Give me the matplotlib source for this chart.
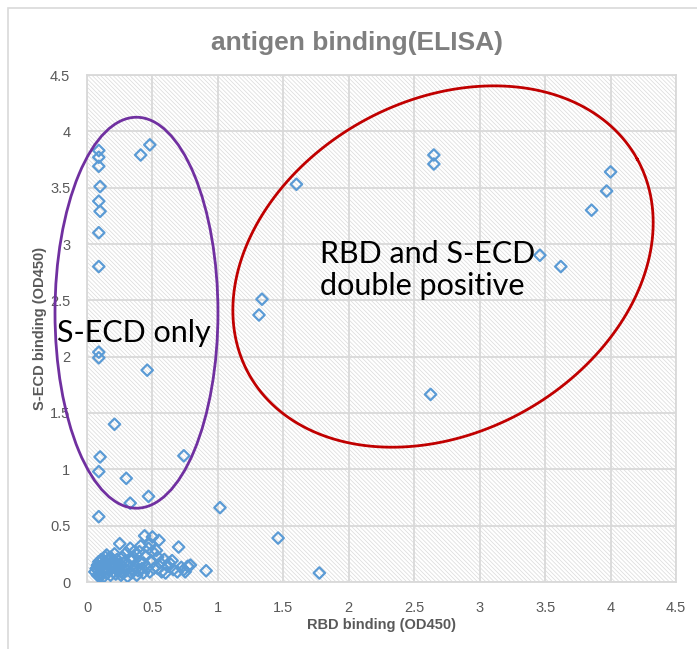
import numpy as np
import matplotlib
matplotlib.use("Agg")
import matplotlib.pyplot as plt
from matplotlib.patches import Ellipse, Rectangle

plt.rcParams['font.family'] = ['Liberation Sans', 'DejaVu Sans']
plt.rcParams['hatch.linewidth'] = 0.5
plt.rcParams['hatch.color'] = '#DADADA'

# ---- data (RBD OD450, S-ECD OD450) ----
rbd_secd_only = [0.09, 0.09, 0.09, 0.10, 0.09, 0.10, 0.09, 0.09, 0.41, 0.48,
                 0.09, 0.09, 0.46, 0.21, 0.10, 0.74, 0.09, 0.30, 0.33, 0.47, 0.09]
secd_secd_only = [3.83, 3.77, 3.69, 3.51, 3.38, 3.29, 3.10, 2.80, 3.79, 3.88,
                  2.04, 1.99, 1.88, 1.40, 1.11, 1.12, 0.98, 0.92, 0.70, 0.76, 0.58]

rbd_double = [1.60, 2.65, 2.65, 4.00, 3.97, 3.855, 3.46, 3.62, 1.337, 1.314, 2.625]
secd_double = [3.53, 3.79, 3.71, 3.64, 3.47, 3.30, 2.90, 2.80, 2.51, 2.37, 1.665]

rbd_other = [1.016, 1.46, 1.775]
secd_other = [0.66, 0.39, 0.08]

rbd_neg = [0.06, 0.07, 0.08, 0.08, 0.09, 0.09, 0.10, 0.10, 0.11, 0.12, 0.12, 0.13, 0.13,
           0.14, 0.15, 0.15, 0.16, 0.17, 0.18, 0.18, 0.19, 0.20, 0.20, 0.21, 0.22, 0.22,
           0.23, 0.24, 0.25, 0.25, 0.26, 0.27, 0.27, 0.28, 0.29, 0.30, 0.30, 0.31, 0.32,
           0.33, 0.33, 0.34, 0.35, 0.35, 0.36, 0.37, 0.38, 0.38, 0.39, 0.40, 0.40, 0.41,
           0.42, 0.43, 0.43, 0.44, 0.45, 0.46, 0.47, 0.48, 0.48, 0.49, 0.50, 0.50, 0.51,
           0.53, 0.54, 0.54, 0.55, 0.56, 0.57, 0.59, 0.60, 0.62, 0.63, 0.65, 0.66, 0.69,
           0.70, 0.72, 0.74, 0.75, 0.77, 0.79, 0.91, 0.12, 0.15, 0.10, 0.17, 0.24]
secd_neg = [0.09, 0.12, 0.06, 0.15, 0.10, 0.18, 0.07, 0.13, 0.20, 0.09, 0.16, 0.05, 0.12,
            0.22, 0.08, 0.17, 0.11, 0.14, 0.06, 0.22, 0.12, 0.09, 0.18, 0.25, 0.07, 0.14,
            0.20, 0.10, 0.34, 0.16, 0.06, 0.08, 0.22, 0.13, 0.18, 0.10, 0.26, 0.05, 0.15,
            0.21, 0.30, 0.08, 0.11, 0.20, 0.27, 0.14, 0.06, 0.24, 0.10, 0.18, 0.27, 0.32,
            0.12, 0.17, 0.08, 0.41, 0.23, 0.13, 0.30, 0.34, 0.09, 0.19, 0.40, 0.27, 0.12,
            0.28, 0.22, 0.12, 0.37, 0.17, 0.09, 0.20, 0.08, 0.14, 0.17, 0.19, 0.11, 0.09,
            0.31, 0.13, 0.11, 0.09, 0.14, 0.15, 0.10, 0.20, 0.24, 0.05, 0.19, 0.12]

x_all = rbd_secd_only + rbd_double + rbd_other + rbd_neg
y_all = secd_secd_only + secd_double + secd_other + secd_neg

ticks = [0, 0.5, 1, 1.5, 2, 2.5, 3, 3.5, 4, 4.5]
tick_labels = ['0', '0.5', '1', '1.5', '2', '2.5', '3', '3.5', '4', '4.5']

# ---- figure ----
fig = plt.figure(figsize=(6.97, 6.49), dpi=100)
fig.patches.append(Rectangle((8/697, -0.02), 1.0, 1 - 8/649 + 0.02, transform=fig.transFigure,
                             fill=False, edgecolor='#D9D9D9', lw=1.2))
ax = fig.add_axes([87/697, 1 - 582/649, (676-87)/697, (582-75)/649])
ax.set_xlim(0, 4.5)
ax.set_ylim(0, 4.5)
ax.add_patch(Rectangle((0, 0), 1, 1, transform=ax.transAxes, facecolor='white',
                       hatch='\\\\\\\\\\\\\\\\', edgecolor='#DADADA', lw=0, zorder=0))
ax.set_xticks(ticks)
ax.set_yticks(ticks)
ax.set_xticklabels(tick_labels)
ax.set_yticklabels(tick_labels)
ax.grid(True, color='#D9D9D9', lw=1.3, zorder=1)
ax.set_axisbelow(True)
for s in ax.spines.values():
    s.set_color('#D9D9D9')
    s.set_linewidth(1.3)
ax.tick_params(length=0, labelsize=10.5, labelcolor='#595959')
ax.tick_params(axis='x', pad=14)
ax.tick_params(axis='y', pad=12)

ax.scatter(x_all, y_all, marker='D', s=34, facecolors='none', edgecolors='#5B9BD5',
           linewidths=1.6, zorder=3)

ax.set_title('antigen binding(ELISA)', fontsize=19, fontweight='bold', color='#7F7F7F',
             pad=18, x=0.458)
ax.set_xlabel('RBD binding (OD450)', fontsize=10.5, fontweight='bold', color='#595959', labelpad=2)
ax.set_ylabel('S-ECD binding (OD450)', fontsize=10.5, fontweight='bold', color='#595959', labelpad=2)

# purple ellipse (S-ECD only)
ax.add_patch(Ellipse((0.378, 2.39), 1.245, 3.47, fill=False, edgecolor='#7030A0',
                     lw=2.0, clip_on=False, zorder=4))

# red tilted ellipse (double positive), built in pixel-proportional space
sx = 130.9; sy = 112.7
t = np.linspace(0, 2*np.pi, 400)
a_px, b_px, ang = 222.0, 166.0, np.deg2rad(29.0)
ex = a_px*np.cos(t)*np.cos(ang) - b_px*np.sin(t)*np.sin(ang)
ey = a_px*np.cos(t)*np.sin(ang) + b_px*np.sin(t)*np.cos(ang)
ax.plot(2.72 + ex/sx, 2.80 + ey/sy, color='#C00000', lw=2.0, clip_on=False, zorder=4)

ax.text(-0.23, 2.21, 'S-ECD only', fontsize=22, family=['Lato', 'DejaVu Sans'],
        color='black', ha='left', va='center', zorder=5, clip_on=False)
ax.text(1.78, 2.77, 'RBD and S-ECD\ndouble positive', fontsize=22,
        family=['Lato', 'DejaVu Sans'], color='black', ha='left', va='center',
        linespacing=1.15, zorder=5)

fig.savefig('out.png', dpi=100)
